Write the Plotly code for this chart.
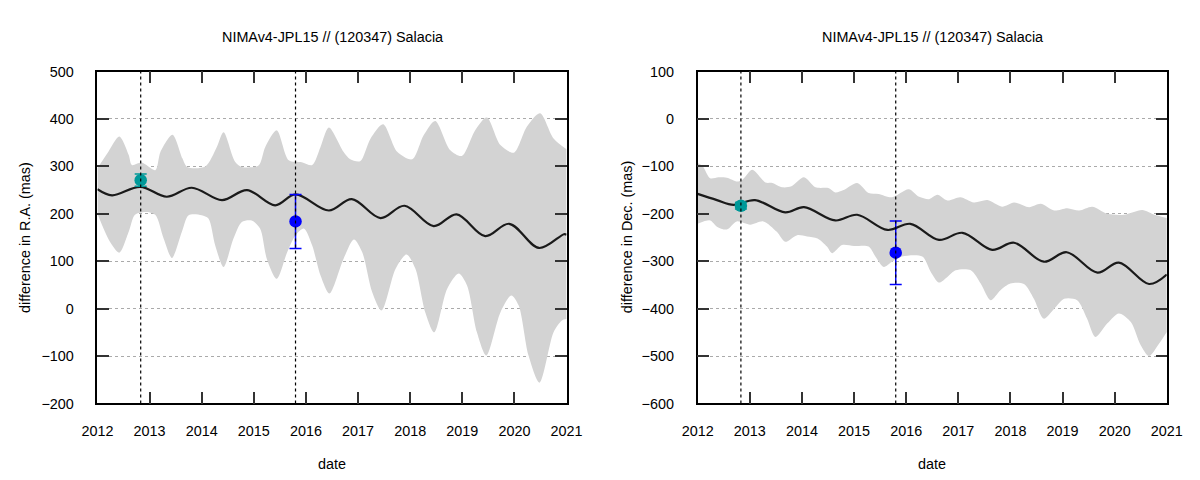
import plotly.graph_objects as go

# ---------------- data ----------------
title_text = "NIMAv4-JPL15 // (120347) Salacia"
x_tick_vals = [2012, 2013, 2014, 2015, 2016, 2017, 2018, 2019, 2020, 2021]
ra_ticks = [-200, -100, 0, 100, 200, 300, 400, 500]
dec_ticks = [-600, -500, -400, -300, -200, -100, 0, 100]
obs_dates = [2012.83, 2015.80]

# R.A. band upper
ra_up_t = [2012.0, 2012.21, 2012.42, 2012.60, 2012.66, 2012.85, 2013.11, 2013.21, 2013.44, 2013.63, 2013.72,
           2014.07, 2014.29, 2014.42, 2014.64, 2014.77, 2015.09, 2015.22, 2015.44, 2015.67, 2015.92, 2016.12,
           2016.28, 2016.44, 2016.72, 2016.85, 2017.04, 2017.24, 2017.48, 2017.75, 2018.04, 2018.26, 2018.48,
           2018.77, 2018.99, 2019.25, 2019.47, 2019.73, 2019.99, 2020.24, 2020.49, 2020.75, 2021.0]
ra_up_v = [296, 331, 363, 324, 303, 308, 292, 331, 367, 317, 299,
           300, 341, 372, 310, 299, 302, 341, 376, 313, 309, 303,
           341, 382, 331, 315, 311, 359, 389, 331, 315, 366, 396,
           334, 322, 377, 403, 345, 329, 384, 412, 359, 336]
# R.A. band lower
ra_lo_t = [2012.0, 2012.24, 2012.42, 2012.60, 2012.72, 2012.92, 2013.11, 2013.27, 2013.43, 2013.62, 2013.75,
           2014.0, 2014.13, 2014.26, 2014.42, 2014.61, 2014.77, 2014.96, 2015.12, 2015.25, 2015.44, 2015.64,
           2015.80, 2015.96, 2016.12, 2016.28, 2016.45, 2016.72, 2016.92, 2017.08, 2017.27, 2017.45, 2017.72,
           2017.93, 2018.10, 2018.29, 2018.46, 2018.71, 2018.93, 2019.09, 2019.28, 2019.46, 2019.73, 2019.94,
           2020.08, 2020.27, 2020.48, 2020.75, 2020.91, 2021.0]
ra_lo_v = [200, 141, 118, 162, 198, 204, 198, 148, 107, 162, 197,
           197, 190, 133, 88, 148, 183, 186, 169, 105, 63, 119,
           155, 169, 133, 70, 32, 105, 146, 119, 35, -4, 84,
           114, 84, -8, -50, 42, 74, 49, -50, -99, -8, 28,
           7, -99, -156, -50, -25, -22]
# R.A. central solution
ra_mid_t = [2012.0, 2012.28, 2012.82, 2013.33, 2013.81, 2014.39, 2014.87, 2015.41, 2015.80, 2016.44,
            2016.88, 2017.43, 2017.89, 2018.45, 2018.89, 2019.44, 2019.90, 2020.47, 2020.95, 2021.0]
ra_mid_v = [252, 239, 257, 236, 255, 229, 250, 218, 241, 207,
            231, 191, 217, 174, 199, 153, 179, 128, 157, 156]
# R.A. observations
ra_obs_v = [271, 184]
ra_obs_err = [13, 57]

# Dec. band upper
de_up_t = [2012.0, 2012.10, 2012.24, 2012.40, 2012.56, 2012.76, 2012.86, 2013.05, 2013.30, 2013.43, 2013.62,
           2013.80, 2014.04, 2014.26, 2014.52, 2014.64, 2014.80, 2015.06, 2015.28, 2015.47, 2015.73, 2016.05,
           2016.25, 2016.44, 2016.60, 2016.79, 2017.04, 2017.30, 2017.56, 2017.84, 2018.07, 2018.36, 2018.58,
           2018.84, 2019.09, 2019.32, 2019.57, 2019.86, 2020.18, 2020.53, 2020.76, 2021.0]
de_up_v = [-93, -100, -125, -123, -124, -132, -128, -107, -134, -135, -144,
           -142, -123, -144, -146, -155, -150, -135, -156, -158, -165, -148,
           -164, -169, -160, -172, -165, -176, -171, -185, -176, -186, -179,
           -193, -188, -193, -185, -200, -202, -192, -202, -209]
# Dec. band lower
de_lo_t = [2012.0, 2012.24, 2012.37, 2012.56, 2012.75, 2013.01, 2013.26, 2013.52, 2013.68, 2013.91, 2014.10,
           2014.30, 2014.48, 2014.58, 2014.77, 2015.0, 2015.28, 2015.41, 2015.57, 2015.73, 2015.92, 2016.31,
           2016.47, 2016.63, 2016.79, 2016.95, 2017.24, 2017.43, 2017.62, 2017.81, 2018.0, 2018.26, 2018.45,
           2018.64, 2018.84, 2019.03, 2019.28, 2019.47, 2019.63, 2019.86, 2020.08, 2020.31, 2020.50, 2020.66,
           2020.85, 2021.0]
de_lo_v = [-221, -214, -227, -233, -216, -223, -216, -238, -259, -245, -248,
           -252, -269, -283, -266, -268, -269, -290, -312, -301, -290, -290,
           -322, -345, -333, -319, -319, -347, -382, -361, -347, -348, -379,
           -421, -400, -379, -382, -421, -460, -431, -410, -428, -477, -500,
           -474, -449]
# Dec. central solution
de_mid_t = [2012.0, 2012.37, 2012.69, 2013.10, 2013.68, 2014.04, 2014.64, 2015.06, 2015.64, 2016.08,
            2016.63, 2017.08, 2017.65, 2018.07, 2018.64, 2019.08, 2019.67, 2020.08, 2020.66, 2021.0]
de_mid_v = [-158, -171, -181, -171, -197, -186, -214, -202, -234, -221,
            -255, -240, -276, -261, -301, -281, -324, -303, -348, -328]
# Dec. observations
de_obs_v = [-183, -282]
de_obs_err = [7, 67]

obs_colors = ["#009999", "#0000ff"]

# ---------------- figure ----------------
W, H = 1200, 480
# mapping between target screen pixels and figure pixels (measured from previous renders)
SX, OX = 0.973, 15.6
SY, OY = 0.964, 8.6


def px(x):
    return (x - OX) / SX / W


def py(y):
    return 1 - (y - OY) / SY / H


FS = 14 / SX
FONT = "Liberation Sans, Arial, sans-serif"
BAND = "#d3d3d3"
fig = go.Figure()

panels = [
    ("x", "y", ra_up_t, ra_up_v, ra_lo_t, ra_lo_v, ra_mid_t, ra_mid_v, ra_obs_v, ra_obs_err),
    ("x2", "y2", de_up_t, de_up_v, de_lo_t, de_lo_v, de_mid_t, de_mid_v, de_obs_v, de_obs_err),
]
for xa, ya, ut, uv, lt, lv, mt, mv, ov, oe in panels:
    fig.add_trace(go.Scatter(x=ut, y=uv, mode="lines", line=dict(width=0, color=BAND, shape="spline", smoothing=0.8),
                             xaxis=xa, yaxis=ya, showlegend=False, hoverinfo="skip"))
    fig.add_trace(go.Scatter(x=lt, y=lv, mode="lines", line=dict(width=0, color=BAND, shape="spline", smoothing=0.8),
                             fill="tonexty", fillcolor=BAND, xaxis=xa, yaxis=ya, showlegend=False, hoverinfo="skip"))
    fig.add_trace(go.Scatter(x=mt, y=mv, mode="lines", line=dict(width=2.2, color="#1a1a1a", shape="spline", smoothing=1.0),
                             xaxis=xa, yaxis=ya, showlegend=False))
    for i in range(len(obs_dates)):
        fig.add_trace(go.Scatter(x=[obs_dates[i]], y=[ov[i]], mode="markers",
                                 marker=dict(size=12.5, color=obs_colors[i]),
                                 error_y=dict(type="data", array=[oe[i]], color=obs_colors[i], thickness=1.5, width=6),
                                 xaxis=xa, yaxis=ya, showlegend=False))
    for d in obs_dates:
        fig.add_shape(type="line", x0=d, x1=d, xref=xa, y0=0, y1=1, yref=ya + " domain",
                      line=dict(color="black", width=1.2, dash="dot"), layer="above")

axis_common = dict(showline=True, linecolor="black", linewidth=1.5, mirror="ticks",
                   ticks="inside", ticklen=11.5, tickwidth=1.5, tickcolor="#333",
                   tickfont=dict(family=FONT, size=FS, color="black"), zeroline=False)
xcommon = dict(axis_common, range=[2012, 2021], tickvals=x_tick_vals, showgrid=False, ticklabelstandoff=13)
ycommon = dict(axis_common, showgrid=True, gridcolor="#aaaaaa", griddash="dot", gridwidth=1, ticklabelstandoff=19)

fig.update_layout(
    width=W, height=H, margin=dict(l=0, r=0, t=0, b=0),
    paper_bgcolor="white", plot_bgcolor="white", showlegend=False,
    xaxis=dict(xcommon, domain=[px(97), px(566)], anchor="y"),
    xaxis2=dict(xcommon, domain=[px(697), px(1166)], anchor="y2"),
    yaxis=dict(ycommon, domain=[py(403), py(72)], range=[-200, 500], tickvals=ra_ticks, anchor="x"),
    yaxis2=dict(ycommon, domain=[py(403), py(72)], range=[-600, 100], tickvals=dec_ticks, anchor="x2"),
    font=dict(family=FONT, size=FS, color="black"),
)

ann = dict(showarrow=False, xref="paper", yref="paper", font=dict(family=FONT, size=FS, color="black"))
fig.add_annotation(ann, text=title_text, x=px(331.5), y=py(38), xanchor="center", yanchor="middle")
fig.add_annotation(ann, text=title_text, x=px(931.5), y=py(38), xanchor="center", yanchor="middle")
fig.add_annotation(ann, text="date", x=px(331.5), y=py(463), xanchor="center", yanchor="middle")
fig.add_annotation(ann, text="date", x=px(931.5), y=py(463), xanchor="center", yanchor="middle")
fig.add_annotation(ann, text="difference in R.A. (mas)", x=px(24), y=py(237.5), textangle=-90,
                   xanchor="center", yanchor="middle")
fig.add_annotation(ann, text="difference in Dec. (mas)", x=px(626), y=py(237.5), textangle=-90,
                   xanchor="center", yanchor="middle")

fig.write_html("out.html")
